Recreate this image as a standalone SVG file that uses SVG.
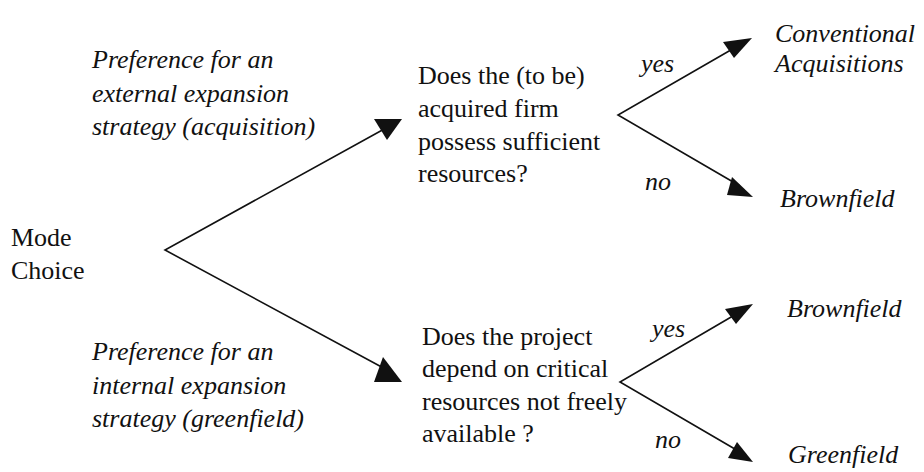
<svg xmlns="http://www.w3.org/2000/svg" width="924" height="472" viewBox="0 0 924 472">
<style>
text{font-family:"Liberation Serif",Tinos,"Times New Roman",Times,"Nimbus Roman","Nimbus Roman No9 L","Noto Serif","DejaVu Serif",FreeSerif,serif;font-size:26px;fill:#111}
.i{font-style:italic}
.ln{stroke:#111;stroke-width:1.6;fill:none}
.ah{fill:#111;stroke:none}
</style>
<rect width="924" height="472" fill="#fff"/>
<g id="connectors">
<polyline class="ln" points="386,128 165,250 389,371"/>
<polygon class="ah" points="374,119 402,119 387,140"/>
<polygon class="ah" points="383,357 374,382 402,382"/>
<polyline class="ln" points="736,47 618,115 740,186"/>
<polygon class="ah" points="723,42 752,38 734,58"/>
<polygon class="ah" points="732,177 753,197 727,195"/>
<polyline class="ln" points="738,313 620,382 740,452"/>
<polygon class="ah" points="725,309 753,304 736,324"/>
<polygon class="ah" points="737,442 753,462 728,458"/>
</g>
<g id="mode-choice">
<text x="11" y="246">Mode</text>
<text x="11" y="279">Choice</text>
</g>
<g id="label-external">
<text class="i" x="92" y="68">Preference for an</text>
<text class="i" x="92" y="101.5">external expansion</text>
<text class="i" x="92" y="135">strategy (acquisition)</text>
</g>
<g id="label-internal">
<text class="i" x="92" y="360">Preference for an</text>
<text class="i" x="92" y="393.5">internal expansion</text>
<text class="i" x="92" y="427">strategy (greenfield)</text>
</g>
<g id="question-acquired">
<text x="418" y="84">Does the (to be)</text>
<text x="418" y="117">acquired firm</text>
<text x="418" y="150">possess sufficient</text>
<text x="418" y="182">resources?</text>
</g>
<g id="question-project">
<text x="422" y="345">Does the project</text>
<text x="422" y="377">depend on critical</text>
<text x="422" y="410">resources not freely</text>
<text x="422" y="442">available ?</text>
</g>
<g id="edge-labels">
<text class="i" x="641" y="72">yes</text>
<text class="i" x="645" y="190">no</text>
<text class="i" x="652" y="337">yes</text>
<text class="i" x="655" y="448">no</text>
</g>
<g id="conventional-acquisitions">
<text class="i" x="775" y="42">Conventional</text>
<text class="i" x="775" y="72">Acquisitions</text>
</g>
<g id="brownfield-1"><text class="i" x="780" y="207">Brownfield</text></g>
<g id="brownfield-2"><text class="i" x="787" y="317">Brownfield</text></g>
<g id="greenfield"><text class="i" x="788" y="463">Greenfield</text></g>
</svg>
